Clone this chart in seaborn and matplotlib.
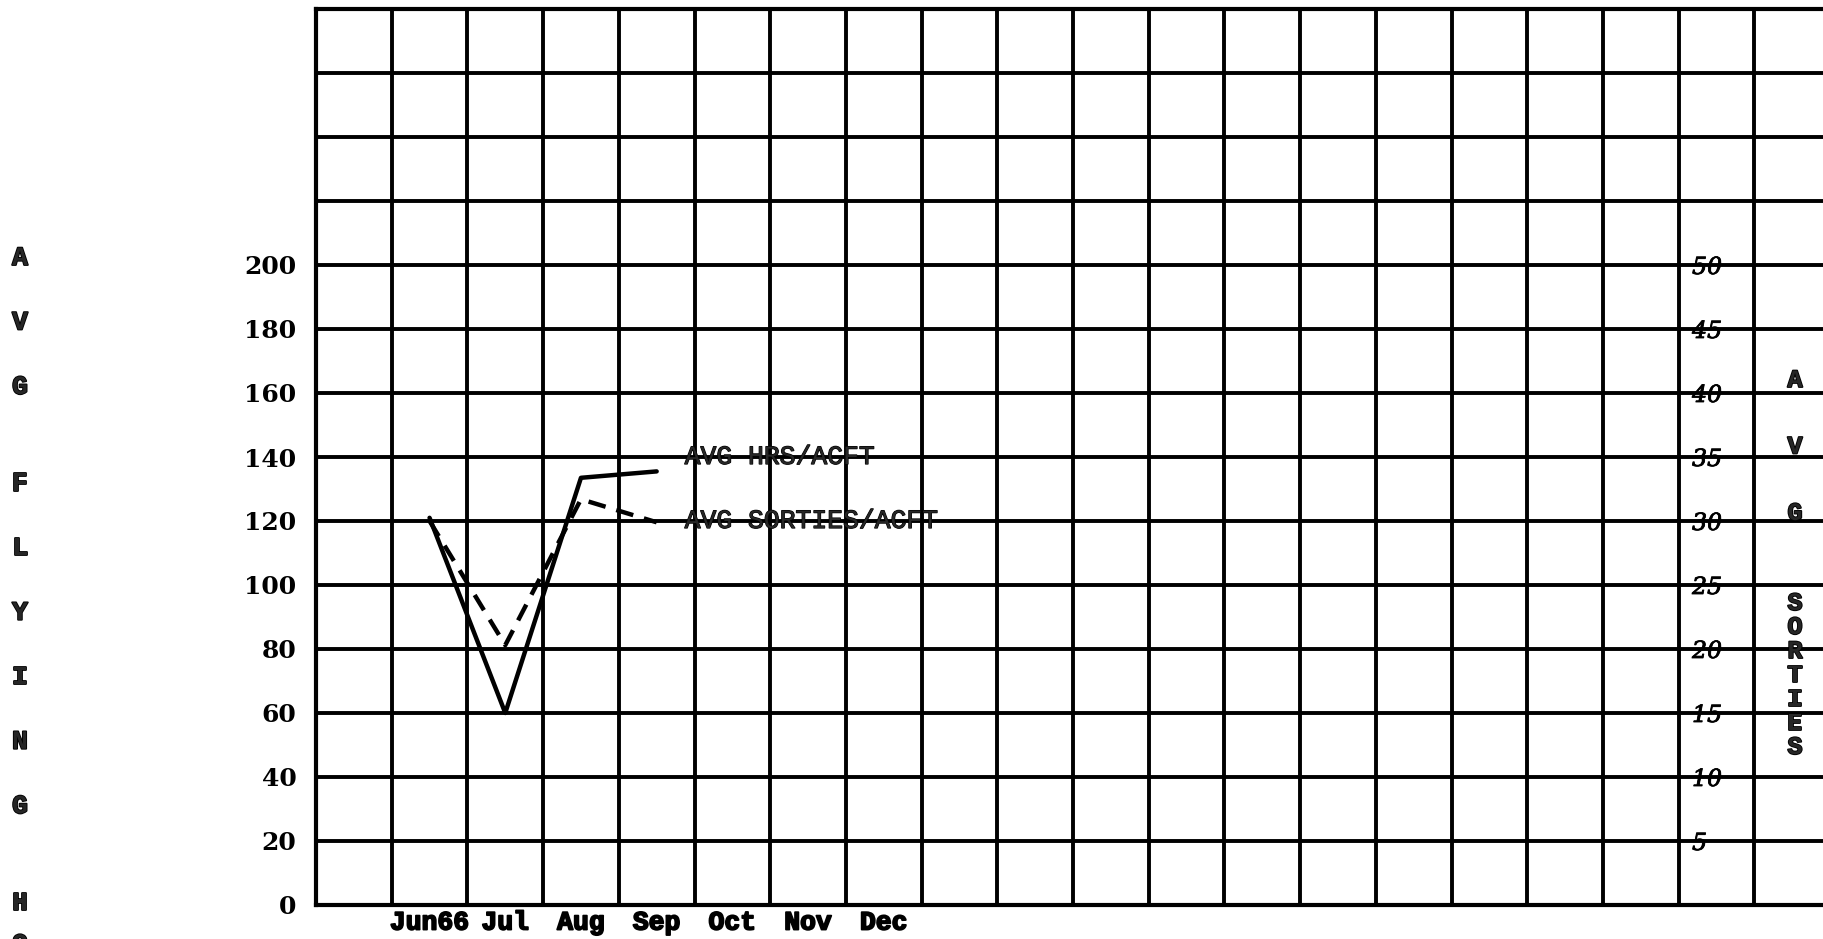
import numpy as np
import pandas as pd
import seaborn as sns
import matplotlib.pyplot as plt
import matplotlib.patheffects as pe

# data
months = ['Jun66', 'Jul', 'Aug', 'Sep', 'Oct', 'Nov', 'Dec']
data_months = ['Jun66', 'Jul', 'Aug', 'Sep']
avg_hrs = [121, 60, 133.5, 135.5]          # left axis, avg flying hours
avg_sorties = [30, 20.3, 31.7, 29.9]       # right axis, avg sorties
left_ticks = [0, 20, 40, 60, 80, 100, 120, 140, 160, 180, 200]
right_ticks = [5, 10, 15, 20, 25, 30, 35, 40, 45, 50]
left_title = 'AVG FLYING HO'   # rest of the word runs off the page
right_title = ['AVG', 'SORTIES']

sns.set_style('white')
plt.rcParams['font.family'] = ['Liberation Mono', 'DejaVu Sans Mono']

# typewriter ink is heavier than the font
ink = [pe.withStroke(linewidth=1.3, foreground='black')]

W, H = 1824, 939
fig = plt.figure(figsize=(W / 100, H / 100), dpi=100)
ax = fig.add_axes([316 / W, 34 / H, (W - 316) / W, 896 / H])

pos = {m: i + 1.5 for i, m in enumerate(months)}
df = pd.DataFrame({'x': [pos[m] for m in data_months],
                   'hrs': avg_hrs, 'sorties': avg_sorties})

sns.lineplot(data=df, x='x', y='hrs', ax=ax, color='black', lw=3.2)

ax2 = ax.twinx()
sns.lineplot(data=df, x='x', y='sorties', ax=ax2, color='black', lw=3.2,
             linestyle=(0, (4, 2.5)))

# graph paper grid
ax.set_xlim(0, 19.92)
ax.set_ylim(0, 280)
ax2.set_ylim(0, 70)
ax.set_xticks([pos[m] for m in months], months)
ax.set_xticks(np.arange(1, 20), minor=True)
ax.set_yticks(np.arange(0, 281, 20),
              [str(v) if v in left_ticks else '' for v in range(0, 281, 20)])
ax.grid(which='minor', axis='x', color='black', lw=2.8)
ax.grid(which='major', axis='y', color='black', lw=2.8)
ax.grid(which='major', axis='x', visible=False)
ax.tick_params(axis='x', which='both', length=0, pad=4, labelsize=19,
               labelcolor='black')
ax.tick_params(axis='y', length=0, pad=14, labelsize=18, labelcolor='black')
for lab in ax.get_xticklabels():
    lab.set_fontweight('bold')
    lab.set_path_effects(ink)
for lab in ax.get_yticklabels():
    lab.set_family('DejaVu Serif')
    lab.set_fontweight('bold')
for s in ['left', 'bottom', 'top']:
    ax.spines[s].set_color('black')
    ax.spines[s].set_linewidth(3)
ax.spines['right'].set_visible(False)
for s in ax2.spines.values():
    s.set_visible(False)
ax.set_xlabel('')
ax.set_ylabel('')
ax2.set_ylabel('')

# right scale typed inside the paper
ax2.set_yticks(right_ticks)
ax2.tick_params(axis='y', length=0, pad=-95, labelsize=17, labelcolor='black')
for lab in ax2.get_yticklabels():
    lab.set_family('DejaVu Serif')
    lab.set_style('italic')
    lab.set_path_effects([pe.withStroke(linewidth=0.6, foreground='black')])

# line labels
for yv, txt in [(140, 'AVG HRS/ACFT'), (120, 'AVG SORTIES/ACFT')]:
    ax.text(4.87, yv, txt, fontsize=19, va='center', ha='left',
            path_effects=[pe.withStroke(linewidth=0.9, foreground='black')])

# stacked axis titles
step = 64.5
y = 258
for ch in left_title:
    if ch == ' ':
        y += step * 0.5
        continue
    if ch == 'O':
        y -= step * 0.35
    fig.text(20 / W, 1 - y / H, ch, fontsize=19, fontweight='bold',
             ha='center', va='center', path_effects=ink)
    y += step

y = 380
for ch in right_title[0]:
    fig.text(1795 / W, 1 - y / H, ch, fontsize=18, fontweight='bold',
             ha='center', va='center', path_effects=ink)
    y += 66.5
y = 603
for ch in right_title[1]:
    fig.text(1795 / W, 1 - y / H, ch, fontsize=18, fontweight='bold',
             ha='center', va='center', path_effects=ink)
    y += 24

fig.savefig('out.png', dpi=100)
